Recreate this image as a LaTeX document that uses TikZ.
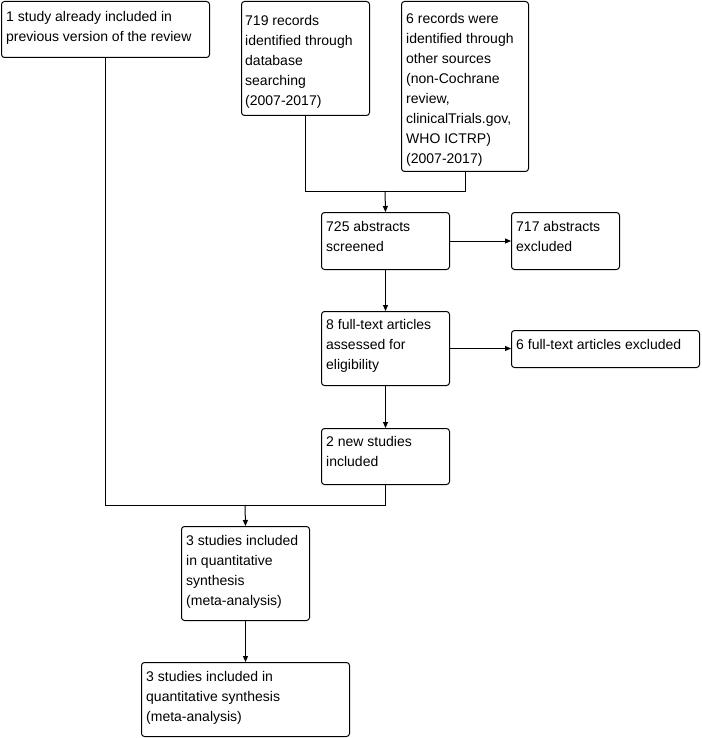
\documentclass[tikz,border=0pt]{standalone}
\usepackage{fontspec}
\setmainfont{Liberation Sans}
\usetikzlibrary{arrows.meta}
\begin{document}
\begin{tikzpicture}[x=1pt,y=-1pt,
  box/.style={draw, line width=1pt, rounded corners=3pt, inner sep=0pt, anchor=north west},
  txt/.style={anchor=north west, align=left, inner sep=0pt, font=\fontsize{14}{20}\selectfont,
    execute at begin node={\rule{0pt}{11pt}}},
  conn/.style={line width=1pt},
  arr/.style={line width=1pt, -{Triangle[length=6pt,width=5pt]}}]
\useasboundingbox (0,0) rectangle (701,738);
% boxes
\node[box, minimum width=208pt, minimum height=56pt] (A) at (1,1) {};
\node[box, minimum width=128pt, minimum height=114pt] (B) at (241,1) {};
\node[box, minimum width=127pt, minimum height=170pt] (C) at (401,1) {};
\node[box, minimum width=128pt, minimum height=57pt] (D) at (321,212) {};
\node[box, minimum width=108pt, minimum height=57pt] (E) at (511,212) {};
\node[box, minimum width=128pt, minimum height=74pt] (F) at (321,311) {};
\node[box, minimum width=188pt, minimum height=37pt] (G) at (511,330) {};
\node[box, minimum width=128pt, minimum height=56pt] (H) at (321,428) {};
\node[box, minimum width=128pt, minimum height=94pt] (I) at (181,526) {};
\node[box, minimum width=208pt, minimum height=74pt] (J) at (141,662) {};
% texts (baseline of first line minus 11pt)
\node[txt] (tA) at (6,11) {1 study already included in\\previous version of the review};
\node[txt] (tB) at (245,15) {719 records\\identified through\\database\\searching\\(2007-2017)};
\node[txt] (tC) at (406,13) {6 records were\\identified through\\other sources\\(non-Cochrane\\review,\\clinicalTrials.gov,\\WHO ICTRP)\\(2007-2017)};
\node[txt] (tD) at (326,221) {725 abstracts\\screened};
\node[txt] (tE) at (516,221) {717 abstracts\\excluded};
\node[txt] (tF) at (326,319) {8 full-text articles\\assessed for\\eligibility};
\node[txt] (tG) at (516,338) {6 full-text articles excluded};
\node[txt] (tH) at (326,436) {2 new studies\\included};
\node[txt] (tI) at (186,535) {3 studies included\\in quantitative\\synthesis\\(meta-analysis)};
\node[txt] (tJ) at (146,671) {3 studies included in\\quantitative synthesis\\(meta-analysis)};
% connectors
\coordinate (m1) at (385,191);
\coordinate (m2) at (245,505);
\draw[conn] (B.south) |- (m1);
\draw[conn] (C.south) |- (m1);
\draw[arr] (m1) -- (D.north);
\draw[arr] (D.east) -- (E.west);
\draw[arr] (D.south) -- (F.north);
\draw[arr] (F.east) -- (F.east -| G.west);
\draw[arr] (F.south) -- (H.north);
\draw[conn] (A.south) |- (m2);
\draw[conn] (H.south) |- (m2);
\draw[arr] (m2) -- (I.north);
\draw[arr] (I.south) -- (J.north);
\end{tikzpicture}
\end{document}
